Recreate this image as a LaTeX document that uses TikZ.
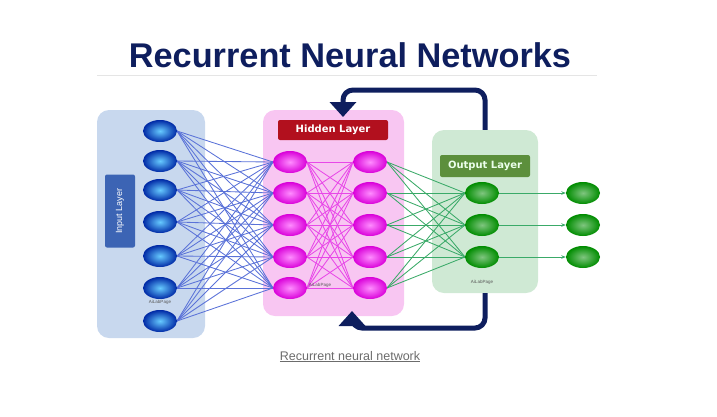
\documentclass[tikz,border=0pt]{standalone}
\usepackage{fontspec}
\setmainfont{Liberation Sans}
\newfontfamily\labelfont{DejaVu Sans}
\usetikzlibrary{positioning, arrows.meta, calc, shapes.geometric}

\definecolor{navy}{HTML}{0E1E5E}
\definecolor{inpanel}{HTML}{C8D8EE}
\definecolor{inlabel}{HTML}{3C64B4}
\definecolor{inwire}{HTML}{5A72D8}
\definecolor{hidpanel}{HTML}{F8C6F2}
\definecolor{hidlabel}{HTML}{B2101E}
\definecolor{hidwire}{HTML}{E848E8}
\definecolor{outpanel}{HTML}{CFE9D4}
\definecolor{outlabel}{HTML}{5C8F3C}
\definecolor{outwire}{HTML}{3AAA68}

\begin{document}
\begin{tikzpicture}[
    x=1pt, y=-1pt,
    panel/.style={rectangle, rounded corners=12pt, inner sep=0pt},
    layerlabel/.style={rectangle, rounded corners=2pt, text=white, inner sep=0pt, font=\labelfont\bfseries\fontsize{10}{12}\selectfont},
    neuron/.style={ellipse, minimum width=34pt, minimum height=22pt, inner sep=0pt},
    bluenode/.style={neuron, shading=radial, inner color=blue!35!cyan!60!white, outer color=blue!75!cyan!65!black},
    pinknode/.style={neuron, shading=radial, inner color=magenta!45!white, outer color=magenta!85!black},
    greennode/.style={neuron, shading=radial, inner color=green!55!black!50!white, outer color=green!55!black},
    wire/.style={line width=0.85pt},
    loop_arrow/.style={line width=5pt, navy, rounded corners=10pt, -{Triangle[width=26pt, length=15pt]}},
    watermark/.style={font=\fontsize{4.5}{5}\selectfont, text=gray!70!black}
]
\useasboundingbox (0,0) rectangle (717,416);

% title and rule
\node[anchor=base, font=\bfseries\fontsize{34.3}{40}\selectfont, text=navy] (title) at (350,67) {Recurrent Neural Networks};
\draw[gray!20, line width=0.8pt] (97,75) -- (597,75);

% panels
\node[panel, fill=inpanel, minimum width=108pt, minimum height=228pt] (inbox) at (151,224) {};
\node[panel, fill=hidpanel, minimum width=141pt, minimum height=206pt] (hidbox) at (333.5,213) {};
\node[panel, fill=outpanel, minimum width=106pt, minimum height=163pt] (outbox) at (485,211.5) {};

% neuron positions
\foreach \y [count=\i] in {131,161,190,222,256,288,321}
    \coordinate (in\i) at (160,\y);
\foreach \y [count=\i] in {162,193,225,257,288} {
    \coordinate (ha\i) at (290,\y);
    \coordinate (hb\i) at (370,\y);
}
\foreach \y [count=\i] in {193,225,257} {
    \coordinate (out\i) at (482,\y);
    \coordinate (res\i) at (583,\y);
}

% wires
\foreach \i in {1,...,7}
    \foreach \j in {1,...,5}
        \draw[wire, inwire] ($(in\i)+(17,0)$) -- ($(ha\j)+(-17,0)$);
\foreach \i in {1,...,5}
    \foreach \j in {1,...,5}
        \draw[wire, hidwire] ($(ha\i)+(17,0)$) -- ($(hb\j)+(-17,0)$);
\foreach \i in {1,...,5}
    \foreach \j in {1,...,3}
        \draw[wire, outwire] ($(hb\i)+(17,0)$) -- ($(out\j)+(-17,0)$);

% neurons
\foreach \i in {1,...,7}
    \node[bluenode] (inN\i) at (in\i) {};
\foreach \i in {1,...,5} {
    \node[pinknode] (haN\i) at (ha\i) {};
    \node[pinknode] (hbN\i) at (hb\i) {};
}
\foreach \i in {1,...,3} {
    \node[greennode] (outN\i) at (out\i) {};
    \node[greennode] (resN\i) at (res\i) {};
    \draw[wire, outwire, -{Stealth[length=4.5pt, width=3.5pt]}] (outN\i.east) -- (resN\i.west);
}

% layer labels
\node[layerlabel, fill=inlabel, rotate=90, minimum width=73pt, minimum height=30pt, font=\fontsize{9}{10}\selectfont] (inlab) at (120,211) {Input Layer};
\node[layerlabel, fill=hidlabel, minimum width=110pt, minimum height=20pt] (hidlab) at (333,130) {Hidden Layer};
\node[layerlabel, fill=outlabel, minimum width=90pt, minimum height=22pt, text=white!92!green] (outlab) at (485,166) {Output Layer};

% small watermarks
\node[watermark] (wm1) at (160,302) {AiLabPage};
\node[watermark] (wm2) at (320,285) {AiLabPage};
\node[watermark] (wm3) at (482,282) {AiLabPage};

% recurrent loop
\coordinate (toptip) at (343,117);
\coordinate (bottip) at (352,311);
\draw[loop_arrow] (outbox.north) -- (485,90) -- (343,90) -- (toptip);
\draw[loop_arrow] (outbox.south) -- (485,328) -- (352,328) -- (bottip);

% caption
\node[anchor=base, font=\fontsize{12.5}{14}\selectfont, text=gray!85!black] (caption) at (350,360) {\underline{Recurrent neural network}};

\end{tikzpicture}
\end{document}
